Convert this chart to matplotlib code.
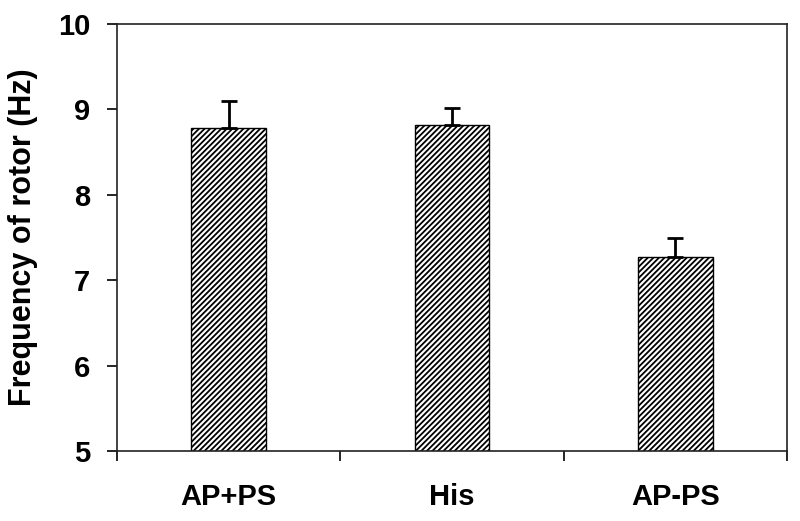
import matplotlib
matplotlib.use("Agg")
import matplotlib.pyplot as plt

categories = ["AP+PS", "His", "AP-PS"]
means = [8.78, 8.82, 7.27]
errors = [0.32, 0.20, 0.23]
yticks = [5, 6, 7, 8, 9, 10]

plt.rcParams['font.family'] = ['Liberation Sans', 'DejaVu Sans']
plt.rcParams['font.weight'] = 'bold'
plt.rcParams['hatch.linewidth'] = 1.3

fig = plt.figure(figsize=(8, 5.21), dpi=100)
ax = fig.add_axes([117/800, 70/521, 670/800, 427/521])

x = list(range(len(categories)))
ax.bar(x, means, width=0.335, bottom=0, color='white', edgecolor='black',
       hatch='//////', linewidth=1.0, zorder=2)
ax.errorbar(x, means, yerr=[[0]*len(errors), errors], fmt='none', ecolor='black',
            elinewidth=2.0, capsize=5.5, capthick=2.0, zorder=3)

ax.set_ylim(5, 10)
ax.set_xlim(-0.5, 2.5)
ax.set_yticks(yticks)
ax.set_yticklabels([str(t) for t in yticks], fontsize=21, fontweight='bold')
ax.tick_params(axis='y', direction='out', length=7.2, width=1.2, pad=12)

ax.set_xticks([-0.5, 0.5, 1.5, 2.5])
ax.set_xticklabels([])
ax.tick_params(axis='x', which='major', direction='out', length=7.5, width=1.2)
ax.set_xticks(x, minor=True)
ax.set_xticklabels(categories, minor=True, fontsize=21, fontweight='bold')
ax.tick_params(axis='x', which='minor', length=0, pad=23)

for s in ax.spines.values():
    s.set_linewidth(1.2)
    s.set_color('#222222')

ax.set_ylabel("Frequency of rotor (Hz)", fontsize=22, fontweight='bold')
ax.yaxis.set_label_coords(-0.118, 0.5)

fig.savefig("out.png", dpi=100)
